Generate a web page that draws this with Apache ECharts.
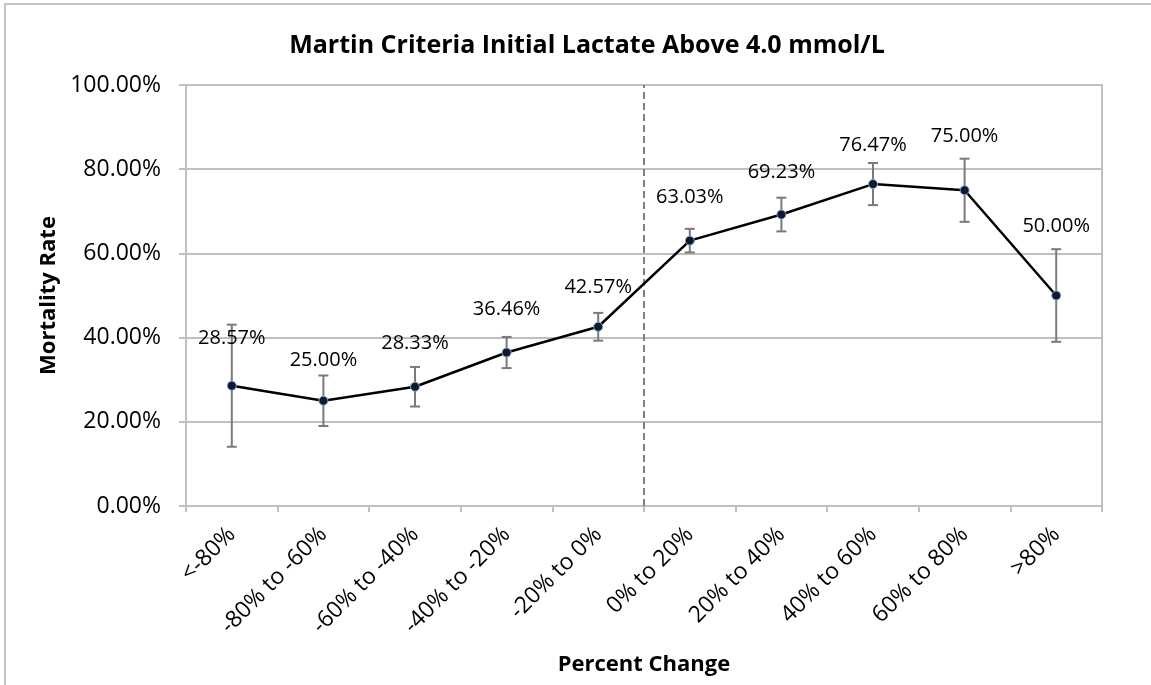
<!DOCTYPE html>
<html>
<head>
<meta charset="utf-8">
<title>Martin Criteria Initial Lactate</title>
<script src="https://cdn.jsdelivr.net/npm/echarts@6/dist/echarts.min.js"></script>
<style>
  html, body { margin: 0; padding: 0; background: #fff; }
  #chart { width: 1151px; height: 685px; }
</style>
</head>
<body>
<div id="chart"></div>
<script>
// categories and values (percent)
const categories = ['<-80%', '-80% to -60%', '-60% to -40%', '-40% to -20%', '-20% to 0%',
  '0% to 20%', '20% to 40%', '40% to 60%', '60% to 80%', '>80%']
const mortality = [28.57, 25.00, 28.33, 36.46, 42.57, 63.03, 69.23, 76.47, 75.00, 50.00]
// error bar half-widths
const errorMargin = [14.5, 6.0, 4.7, 3.7, 3.3, 2.8, 4.0, 5.0, 7.5, 11.0]
const yTicks = [0, 20, 40, 60, 80, 100]
// dashed divider sits between '-20% to 0%' and '0% to 20%'
const dividerAt = 5

// label gap above each point (px), some labels were nudged clear of the error bars
const labelGap = [32, 25, 28, 28, 24, 28, 27, 24, 39, 54]

const font = '"Open Sans", "Noto Sans", sans-serif'
const gridColor = '#bfbfbf'

const chart = echarts.init(document.getElementById('chart'))

const errorData = mortality.map((v, i) => [i, v - errorMargin[i], v + errorMargin[i]])
const lineData = mortality.map((v, i) => ({ value: v, label: { distance: labelGap[i] } }))

const option = {
  animation: false,
  backgroundColor: '#fff',
  textStyle: { fontFamily: font },
  title: {
    text: 'Martin Criteria Initial Lactate Above 4.0 mmol/L',
    left: 582,
    top: 28,
    textAlign: 'center',
    textStyle: { fontFamily: font, fontSize: 25, fontWeight: 'bold', color: '#000' }
  },
  graphic: [
    {
      // chart area border (cut off at right / bottom)
      type: 'rect',
      shape: { x: 5, y: 4, width: 1200, height: 720 },
      style: { fill: 'none', stroke: '#c4c4c4', lineWidth: 2 },
      silent: true
    }
  ],
  grid: { left: 186, right: 49, top: 85, bottom: 179, containLabel: false },
  xAxis: [
    {
      type: 'category',
      data: categories,
      boundaryGap: true,
      axisLine: { show: true, lineStyle: { color: gridColor, width: 2 } },
      axisTick: { show: true, length: 6, lineStyle: { color: gridColor, width: 2 } },
      axisLabel: { rotate: 45, margin: 25, fontSize: 23, color: '#000', fontFamily: font, interval: 0 },
      name: 'Percent Change',
      nameLocation: 'middle',
      nameGap: 148,
      nameTextStyle: { fontSize: 22, fontWeight: 'bold', color: '#000', fontFamily: font }
    },
    {
      type: 'value',
      min: 0,
      max: categories.length,
      show: false
    }
  ],
  yAxis: [
    {
      type: 'value',
      min: yTicks[0],
      max: yTicks[yTicks.length - 1],
      interval: 20,
      axisLine: { show: true, lineStyle: { color: gridColor, width: 2 } },
      axisTick: { show: true, length: 7, lineStyle: { color: gridColor, width: 2 } },
      splitLine: { show: true, lineStyle: { color: gridColor, width: 2 } },
      axisLabel: {
        fontSize: 23, color: '#000', fontFamily: font, margin: 25,
        formatter: v => v.toFixed(2) + '%'
      },
      name: 'Mortality Rate',
      nameLocation: 'middle',
      nameGap: 126,
      nameTextStyle: { fontSize: 22, fontWeight: 'bold', color: '#000', fontFamily: font }
    },
    {
      type: 'value',
      position: 'right',
      min: 0,
      max: 100,
      interval: 20,
      axisLine: { show: true, lineStyle: { color: gridColor, width: 2 } },
      axisTick: { show: false },
      axisLabel: { show: false },
      splitLine: { show: false }
    }
  ],
  series: [
    {
      name: 'divider',
      type: 'line',
      xAxisIndex: 1,
      yAxisIndex: 0,
      data: [[dividerAt, yTicks[0]], [dividerAt, yTicks[yTicks.length - 1]]],
      symbol: 'none',
      lineStyle: { color: '#7f7f7f', width: 2, type: [7, 4] },
      silent: true,
      z: 1
    },
    {
      name: 'error',
      type: 'custom',
      xAxisIndex: 0,
      yAxisIndex: 0,
      data: errorData,
      renderItem (params, api) {
        const x = api.value(0)
        const lo = api.coord([x, api.value(1)])
        const hi = api.coord([x, api.value(2)])
        const cap = 5
        const style = { stroke: '#7a7a7a', lineWidth: 2 }
        return {
          type: 'group',
          children: [
            { type: 'line', shape: { x1: lo[0], y1: lo[1], x2: hi[0], y2: hi[1] }, style },
            { type: 'line', shape: { x1: lo[0] - cap, y1: lo[1], x2: lo[0] + cap, y2: lo[1] }, style },
            { type: 'line', shape: { x1: hi[0] - cap, y1: hi[1], x2: hi[0] + cap, y2: hi[1] }, style }
          ]
        }
      },
      z: 2
    },
    {
      name: 'Mortality Rate',
      type: 'line',
      data: lineData,
      symbol: 'circle',
      symbolSize: 9,
      lineStyle: { color: '#000', width: 2.5 },
      itemStyle: { color: '#0d1a30', borderColor: '#8aa6d0', borderWidth: 1 },
      label: {
        show: true,
        position: 'top',
        fontSize: 20,
        color: '#000',
        fontFamily: font,
        formatter: p => p.value.toFixed(2) + '%'
      },
      z: 3
    }
  ]
}

chart.setOption(option)
</script>
</body>
</html>
